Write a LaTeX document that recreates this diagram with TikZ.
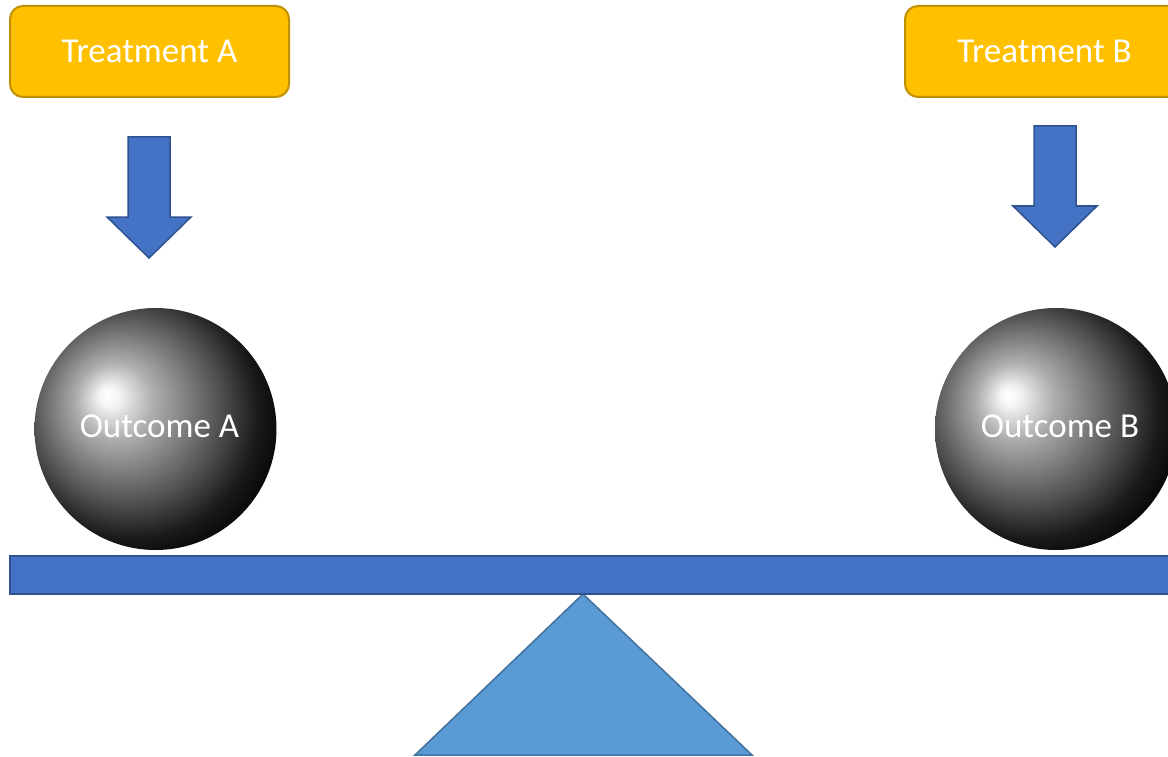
\documentclass[tikz,border=0pt]{standalone}
\usepackage{fontspec}
\setmainfont{Carlito}
\usetikzlibrary{calc}

% Sphere shading: bright spot up-left, fading to black at the lower right
\pgfdeclareradialshading{sphere}{\pgfpoint{-10bp}{7bp}}{%
  color(0bp)=(white);
  color(2bp)=(black!4);
  color(4.5bp)=(black!16);
  color(8bp)=(black!32);
  color(13bp)=(black!48);
  color(20bp)=(black!70);
  color(26bp)=(black!90);
  color(32bp)=(black);
  color(50bp)=(black)}

\definecolor{gold}{HTML}{FFC000}
\definecolor{goldline}{HTML}{BF9000}
\definecolor{steel}{HTML}{4472C4}
\definecolor{steelline}{HTML}{2F528F}
\definecolor{sky}{HTML}{5B9BD5}
\definecolor{skyline}{HTML}{41719C}

\tikzset{
  label font/.style={font=\fontsize{35}{42}\selectfont, text=white},
  treatbox/.style={draw=goldline, line width=2pt, fill=gold, rounded corners=13pt,
    minimum width=279pt, minimum height=91pt, inner sep=0pt, label font},
  ballnode/.style={circle, minimum size=242pt, inner sep=0pt, shading=sphere, label font},
  blockarrow/.style={draw=steelline, line width=1.5pt, fill=steel, line join=miter},
  beamstyle/.style={draw=steelline, line width=1.5pt, fill=steel},
  pivotstyle/.style={draw=skyline, line width=1.5pt, fill=sky, line join=miter},
}

\begin{document}
\begin{tikzpicture}[x=1pt, y=-1pt]
  \useasboundingbox (0,0) rectangle (1168,757);
  \clip (0,0) rectangle (1168,757);

  % treatments
  \node[treatbox] (tA) at (149.5,51.5) {Treatment A};
  \node[treatbox] (tB) at (1044.5,51.5) {Treatment B};

  % downward block arrows: shaft half-width 21, head half-width 42
  \draw[blockarrow] (128,137) -- (170,137) -- (170,217) -- (191,217) -- (149,258)
    -- (107,217) -- (128,217) -- cycle;
  \draw[blockarrow] (1034,126) -- (1076,126) -- (1076,206) -- (1097,206) -- (1055,247)
    -- (1013,206) -- (1034,206) -- cycle;

  % pivot under the beam
  \draw[pivotstyle] (583,594) -- (752,755) -- (415,755) -- cycle;

  % beam
  \draw[beamstyle] (10,556) rectangle (1185,594);

  % outcomes resting on the beam
  \node[ballnode] (oA) at (155.5,429) {};
  \node[ballnode] (oB) at (1056,429) {};
  \node[label font] at ($(oA)+(4,-3)$) {Outcome A};
  \node[label font] at ($(oB)+(4,-3)$) {Outcome B};
\end{tikzpicture}
\end{document}
